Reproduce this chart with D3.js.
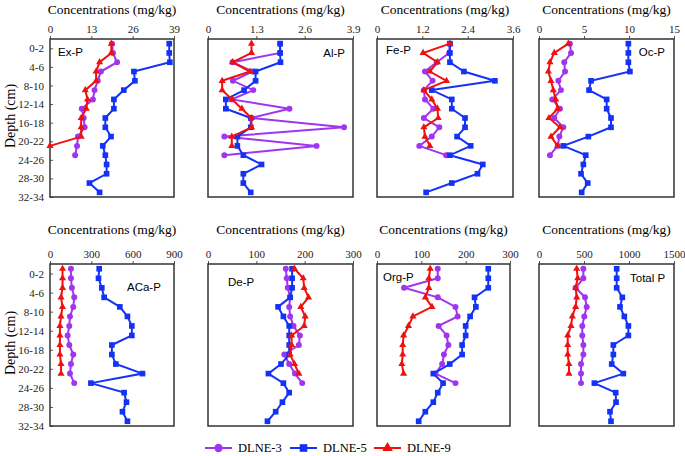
<!DOCTYPE html>
<html>
<head>
<meta charset="utf-8">
<script src="https://cdn.jsdelivr.net/npm/d3@7"></script>
<style>
  body { margin: 0; background: #fff; }
  .serif { font-family: "Liberation Serif", "Times New Roman", "DejaVu Serif", serif; }
  .sans { font-family: "Liberation Sans", Arial, sans-serif; }
</style>
</head>
<body>
<div id="chart"></div>
<script>
// depth of each sample (cm, top of interval) and axis labels
var depths = [0, 2, 4, 6, 8, 10, 12, 14, 16, 18, 20, 22, 24, 26, 28, 30, 32];
var depthLabels = ["0-2", "4-6", "8-10", "12-14", "16-18", "20-22", "24-26", "28-30", "32-34"];
var depthLabelAt = [1, 5, 9, 13, 17, 21, 25, 29, 33];

var seriesNames = ["DLNE-3", "DLNE-5", "DLNE-9"];

// Ex-P
var exP3 = [19.5, 19.8, 21.1, 16.0, 15.0, 14.0, 13.5, 10.0, 10.6, 10.9, 8.8, 8.5, 7.9];
var exP5 = [37.5, 37.5, 37.7, 26.4, 26.7, 23.2, 20.1, 20.1, 17.4, 17.4, 19.2, 16.6, 17.4, 17.8, 17.8, 12.4, 15.6];
var exP9 = [19.3, 19.3, 15.6, 14.5, 14.5, 11.1, 11.8, 11.4, 9.8, 9.8, 9.8, 0];
var exPTicks = [0, 13, 26, 39];

// Al-P
var alP3 = [1.94, 1.94, 0.66, 1.2, 0.67, 1.22, 0.64, 2.19, 1.15, 3.66, 0.44, 2.92, 0.44];
var alP5 = [1.94, 1.94, 1.95, 1.28, 1.28, 0.97, 0.48, 0.48, 1.15, 1.15, 0.79, 0.79, 0.95, 1.44, 0.95, 0.95, 1.15];
var alP9 = [1.17, 1.17, 0.66, 1.13, 0.38, 0.38, 0.65, 0.91, 1.17, 1.17, 0.64, 0.64];
var alPTicks = [0, 1.3, 2.6, 3.9];

// Fe-P
var feP3 = [1.93, 1.91, 1.58, 1.27, 1.47, 1.24, 1.27, 1.49, 1.24, 1.65, 1.45, 1.12, 1.83];
var feP5 = [1.93, 1.93, 1.93, 2.30, 3.12, 1.45, 1.98, 1.98, 2.33, 2.33, 2.12, 2.48, 1.93, 2.80, 2.66, 1.98, 1.30];
var feP9 = [1.93, 1.22, 1.60, 1.40, 1.84, 1.24, 1.45, 1.60, 1.62, 1.24, 1.27, 1.40];
var fePTicks = [0, 1.2, 2.4, 3.6];

// Oc-P
var ocP3 = [3.44, 3.56, 2.81, 2.89, 2.15, 2.44, 1.48, 2.33, 1.70, 2.70, 2.26, 2.08, 1.22];
var ocP5 = [9.93, 9.93, 9.93, 10.1, 5.78, 5.56, 7.52, 7.52, 8.0, 8.0, 5.48, 2.7, 5.19, 4.93, 4.67, 5.41, 4.74];
var ocP9 = [3.26, 1.70, 1.22, 1.04, 1.33, 1.59, 1.85, 2.08, 1.11, 2.33, 1.33, 2.08];
var ocPTicks = [0, 5, 10, 15];

// ACa-P
var acaP3 = [152, 152, 159, 176, 169, 145, 140, 128, 140, 169, 152, 145, 176];
var acaP5 = [357, 352, 376, 393, 507, 562, 594, 594, 449, 449, 478, 671, 297, 538, 555, 526, 562];
var acaP9 = [91, 91, 91, 80, 91, 80, 72, 72, 72, 72, 80, 80];
var acaPTicks = [0, 300, 600, 900];

// De-P
var deP3 = [161, 163, 165, 170, 168, 170, 177, 190, 188, 158, 168, 180, 195];
var deP5 = [174, 174, 174, 170, 145, 156, 168, 168, 168, 168, 151, 125, 156, 168, 154, 140, 123];
var deP9 = [179, 197, 199, 208, 192, 201, 199, 173, 173, 170, 179, 188];
var dePTicks = [0, 100, 200, 300];

// Org-P
var orgP3 = [137, 137, 61, 137, 177, 182, 139, 157, 161, 151, 147, 132, 177];
var orgP5 = [251, 251, 251, 220, 223, 210, 200, 200, 192, 192, 164, 127, 149, 137, 127, 109, 94];
var orgP9 = [120, 117, 117, 109, 124, 81, 71, 60, 58, 58, 56, 60];
var orgPTicks = [0, 100, 200, 300];

// Total P
var totP3 = [493, 493, 407, 511, 530, 503, 481, 481, 493, 493, 467, 467, 467];
var totP5 = [863, 863, 863, 926, 900, 948, 993, 993, 826, 826, 808, 937, 615, 852, 856, 789, 800];
var totP9 = [419, 430, 407, 419, 407, 370, 356, 319, 319, 319, 333, 333];
var totPTicks = [0, 500, 1000, 1500];

function init() {
    var w = 685;
    var h = 456;
    var colors = ["#a035f0", "#1432f5", "#f01010"];
    var shapes = [d3.symbolCircle, d3.symbolSquare, d3.symbolTriangle];
    var sizes = [28, 32, 22];

    // panel layout (box edges in px)
    var panels = [
        {name: "Ex-P",    s: [exP3, exP5, exP9],    ticks: exPTicks,  x0: 50,  x1: 174, row: 0, lab: [58, 52, "start"], first: true},
        {name: "Al-P",    s: [alP3, alP5, alP9],    ticks: alPTicks,  x0: 208, x1: 353, row: 0, lab: [345, 53, "end"]},
        {name: "Fe-P",    s: [feP3, feP5, feP9],    ticks: fePTicks,  x0: 377, x1: 513, row: 0, lab: [386, 50, "start"]},
        {name: "Oc-P",    s: [ocP3, ocP5, ocP9],    ticks: ocPTicks,  x0: 539, x1: 674, row: 0, lab: [665, 52, "end"]},
        {name: "ACa-P",   s: [acaP3, acaP5, acaP9], ticks: acaPTicks, x0: 50,  x1: 174, row: 1, lab: [127, 287, "start"], first: true},
        {name: "De-P",    s: [deP3, deP5, deP9],    ticks: dePTicks,  x0: 208, x1: 353, row: 1, lab: [228, 282, "start"]},
        {name: "Org-P",   s: [orgP3, orgP5, orgP9], ticks: orgPTicks, x0: 377, x1: 510, row: 1, lab: [383, 277, "start"]},
        {name: "Total P", s: [totP3, totP5, totP9], ticks: totPTicks, x0: 539, x1: 674, row: 1, lab: [630, 278, "start"]}
    ];
    var rows = [
        {top: 39, bottom: 197, title: 14},
        {top: 264, bottom: 426, title: 234}
    ];

    var svg = d3.select("#chart")
        .append("svg")
        .attr("width", w)
        .attr("height", h);

    panels.forEach(function(p) {
        var r = rows[p.row];
        var xScale = d3.scaleLinear()
            .domain([p.ticks[0], p.ticks[p.ticks.length - 1]])
            .range([p.x0, p.x1]);
        var yScale = d3.scaleLinear()
            .domain([-1, 33])
            .range([r.top, r.bottom]);

        var g = svg.append("g");

        // title
        g.append("text")
            .attr("class", "serif")
            .attr("x", (p.x0 + p.x1) / 2)
            .attr("y", r.title)
            .attr("text-anchor", "middle")
            .style("font-size", "13.5px")
            .text("Concentrations (mg/kg)");

        // top axis
        var xAxis = d3.axisTop(xScale)
            .tickValues(p.ticks)
            .tickSizeInner(3)
            .tickSizeOuter(0)
            .tickPadding(3)
            .tickFormat(function(d) { return d; });
        var ax = g.append("g")
            .attr("transform", "translate(0," + r.top + ")")
            .call(xAxis);
        ax.attr("font-family", null);
        ax.select(".domain").remove();
        ax.selectAll("text")
            .attr("class", "serif")
            .style("font-size", "11px")
            .attr("fill", "#222");
        ax.selectAll("line").attr("stroke", "#555");

        // depth axis (first column only)
        if (p.first) {
            var yAxis = d3.axisLeft(yScale)
                .tickValues(depthLabelAt)
                .tickSizeInner(-3)
                .tickSizeOuter(0)
                .tickPadding(6)
                .tickFormat(function(d, i) { return depthLabels[i]; });
            var ay = g.append("g")
                .attr("transform", "translate(" + p.x0 + ",0)")
                .call(yAxis);
            ay.attr("font-family", null);
            ay.select(".domain").remove();
            ay.selectAll("text")
                .attr("class", "serif")
                .style("font-size", "11px")
                .attr("fill", "#222");
            ay.selectAll("line").attr("stroke", "#555");

            g.append("text")
                .attr("class", "serif")
                .attr("text-anchor", "middle")
                .attr("transform", "translate(15," + ((r.top + r.bottom) / 2 - 2) + ")rotate(-90)")
                .style("font-size", "14px")
                .text("Depth (cm)");
        }

        // frame
        g.append("rect")
            .attr("x", p.x0)
            .attr("y", r.top)
            .attr("width", p.x1 - p.x0)
            .attr("height", r.bottom - r.top)
            .attr("fill", "none")
            .attr("stroke", "#333")
            .attr("stroke-width", 1.5);

        // series (purple, blue, red)
        p.s.forEach(function(vals, k) {
            var pts = vals.map(function(v, i) { return [v, depths[i]]; });
            var line = d3.line()
                .x(function(d) { return xScale(d[0]); })
                .y(function(d) { return yScale(d[1]); });
            g.append("path")
                .datum(pts)
                .attr("d", line)
                .attr("fill", "none")
                .attr("stroke", colors[k])
                .attr("stroke-width", 2);
            g.selectAll(".m" + k)
                .data(pts)
                .enter()
                .append("path")
                .attr("class", "m" + k)
                .attr("d", d3.symbol().type(shapes[k]).size(sizes[k]))
                .attr("transform", function(d) {
                    return "translate(" + xScale(d[0]) + "," + yScale(d[1]) + ")";
                })
                .attr("fill", colors[k]);
        });

        // panel label
        g.append("text")
            .attr("class", "sans")
            .attr("x", p.lab[0])
            .attr("y", p.lab[1] + 4)
            .attr("text-anchor", p.lab[2])
            .style("font-size", "11.5px")
            .text(p.name);
    });

    // legend
    var legX = [205, 290, 374];
    var legY = 448;
    seriesNames.forEach(function(name, k) {
        svg.append("line")
            .attr("x1", legX[k])
            .attr("x2", legX[k] + 27)
            .attr("y1", legY)
            .attr("y2", legY)
            .attr("stroke", colors[k])
            .attr("stroke-width", 2);
        svg.append("path")
            .attr("d", d3.symbol().type(shapes[k]).size(sizes[k] + 26))
            .attr("transform", "translate(" + (legX[k] + 13.5) + "," + legY + ")")
            .attr("fill", colors[k]);
        svg.append("text")
            .attr("class", "serif")
            .attr("x", legX[k] + 33)
            .attr("y", legY + 4)
            .style("font-size", "12.5px")
            .text(name);
    });
}
window.onload = init;
</script>
</body>
</html>
